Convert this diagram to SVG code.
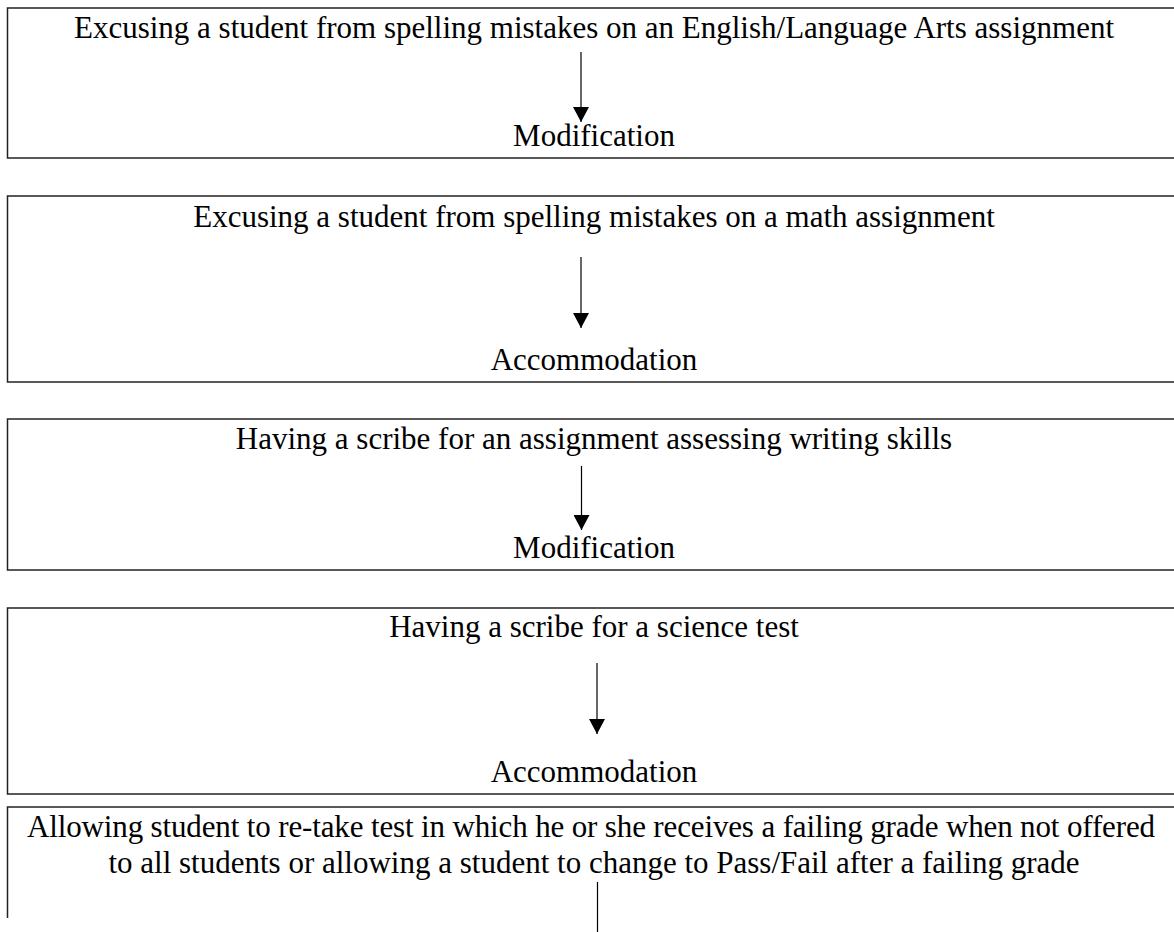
<svg xmlns="http://www.w3.org/2000/svg" width="1174" height="932" viewBox="0 0 1174 932">
<style>
.box{fill:#fff;stroke:#222;stroke-width:1.5}
.t{font-family:"Liberation Serif","Times New Roman",serif;font-size:31px;fill:#000;text-anchor:middle}
.c{stroke:#000;stroke-width:1.2;fill:none}
</style>
<defs>
<marker id="ah" markerUnits="userSpaceOnUse" markerWidth="16" markerHeight="16" refX="15" refY="8" orient="auto">
<path d="M0,0 L15,8 L0,16 Z" fill="#000"/>
</marker>
</defs>
<rect width="1174" height="932" fill="#fff"/>
<g id="node1">
<rect class="box" x="7.5" y="8" width="1180" height="150"/>
<text class="t" x="594" y="38">Excusing a student from spelling mistakes on an English/Language Arts assignment</text>
<text class="t" x="594" y="146">Modification</text>
</g>
<g id="node2">
<rect class="box" x="7.5" y="196" width="1180" height="186"/>
<text class="t" x="594" y="227">Excusing a student from spelling mistakes on a math assignment</text>
<text class="t" x="594" y="370">Accommodation</text>
</g>
<g id="node3">
<rect class="box" x="7.5" y="419" width="1180" height="151"/>
<text class="t" x="594" y="449">Having a scribe for an assignment assessing writing skills</text>
<text class="t" x="594" y="558">Modification</text>
</g>
<g id="node4">
<rect class="box" x="7.5" y="608" width="1180" height="186"/>
<text class="t" x="594" y="637">Having a scribe for a science test</text>
<text class="t" x="594" y="782">Accommodation</text>
</g>
<g id="node5">
<path class="box" d="M7.5,918 L7.5,807 L1190,807" fill="none"/>
<text class="t" x="591" y="837" textLength="1128" lengthAdjust="spacing">Allowing student to re-take test in which he or she receives a failing grade when not offered</text>
<text class="t" x="594" y="873">to all students or allowing a student to change to Pass/Fail after a failing grade</text>
</g>
<g id="connectors">
<line class="c" x1="581" y1="52" x2="581" y2="122" marker-end="url(#ah)"/>
<line class="c" x1="581" y1="257" x2="581" y2="328" marker-end="url(#ah)"/>
<line class="c" x1="581.5" y1="466" x2="581.5" y2="530" marker-end="url(#ah)"/>
<line class="c" x1="597" y1="663" x2="597" y2="734" marker-end="url(#ah)"/>
<line class="c" x1="597.5" y1="882" x2="597.5" y2="932"/>
</g>
</svg>
